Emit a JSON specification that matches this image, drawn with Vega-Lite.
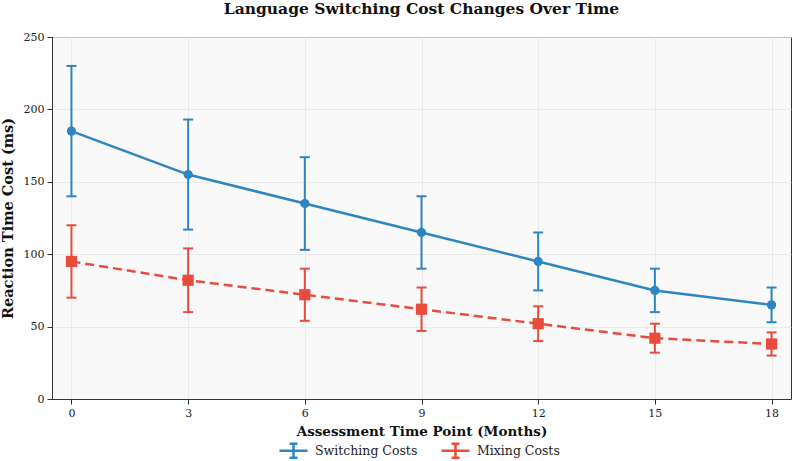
{
  "$schema": "https://vega.github.io/schema/vega-lite/v6.json",
  "autosize": "none",
  "width": 739,
  "height": 362,
  "padding": {"left": 52, "top": 37, "right": 3, "bottom": 62},
  "background": "white",
  "title": {
    "text": "Language Switching Cost Changes Over Time",
    "font": "DejaVu Serif",
    "fontSize": 15.5,
    "fontWeight": "bold",
    "color": "#111",
    "anchor": "middle",
    "offset": 14
  },
  "config": {
    "view": {"fill": "#f9f9f9", "stroke": "#333", "strokeWidth": 1},
    "axis": {
      "labelFont": "DejaVu Serif",
      "labelFontSize": 11,
      "labelColor": "#222",
      "titleFont": "DejaVu Serif",
      "titleFontSize": 13.5,
      "titleFontWeight": "bold",
      "titleColor": "#111",
      "domainColor": "#333",
      "tickColor": "#333",
      "tickSize": 5,
      "gridColor": "#e6e6e6",
      "gridWidth": 0.8
    },
    "legend": {
      "labelFont": "DejaVu Serif",
      "labelFontSize": 12.5,
      "labelColor": "#222"
    }
  },
  "data": {
    "values": [
      {"time": 0, "series": "Switching Costs", "mean": 185, "lo": 140, "hi": 230},
      {"time": 3, "series": "Switching Costs", "mean": 155, "lo": 117, "hi": 193},
      {"time": 6, "series": "Switching Costs", "mean": 135, "lo": 103, "hi": 167},
      {"time": 9, "series": "Switching Costs", "mean": 115, "lo": 90, "hi": 140},
      {"time": 12, "series": "Switching Costs", "mean": 95, "lo": 75, "hi": 115},
      {"time": 15, "series": "Switching Costs", "mean": 75, "lo": 60, "hi": 90},
      {"time": 18, "series": "Switching Costs", "mean": 65, "lo": 53, "hi": 77},
      {"time": 0, "series": "Mixing Costs", "mean": 95, "lo": 70, "hi": 120},
      {"time": 3, "series": "Mixing Costs", "mean": 82, "lo": 60, "hi": 104},
      {"time": 6, "series": "Mixing Costs", "mean": 72, "lo": 54, "hi": 90},
      {"time": 9, "series": "Mixing Costs", "mean": 62, "lo": 47, "hi": 77},
      {"time": 12, "series": "Mixing Costs", "mean": 52, "lo": 40, "hi": 64},
      {"time": 15, "series": "Mixing Costs", "mean": 42, "lo": 32, "hi": 52},
      {"time": 18, "series": "Mixing Costs", "mean": 38, "lo": 30, "hi": 46}
    ]
  },
  "encoding": {
    "x": {
      "field": "time",
      "type": "quantitative",
      "title": "Assessment Time Point (Months)",
      "scale": {"domain": [-0.5, 18.5], "nice": false, "zero": false},
      "axis": {"values": [0, 3, 6, 9, 12, 15, 18], "labelPadding": 3, "titlePadding": 6}
    }
  },
  "layer": [
    {
      "mark": {"type": "rule", "strokeWidth": 2, "opacity": 1},
      "encoding": {
        "y": {
          "field": "lo",
          "type": "quantitative",
          "title": "Reaction Time Cost (ms)",
          "scale": {"domain": [0, 250], "nice": false},
          "axis": {"values": [0, 50, 100, 150, 200, 250], "labelPadding": 3, "titlePadding": 8, "titleFontSize": 14.5}
        },
        "y2": {"field": "hi"},
        "color": {
          "field": "series",
          "type": "nominal",
          "title": null,
          "scale": {"domain": ["Switching Costs", "Mixing Costs"], "range": ["#2e86c1", "#e74c3c"]},
          "legend": {
            "orient": "none",
            "legendX": 226,
            "legendY": 398,
            "direction": "horizontal",
            "symbolType": "M-1,0H1M0,-0.5V0.5M-0.28,-0.5H0.28M-0.28,0.5H0.28",
            "symbolSize": 784,
            "symbolStrokeWidth": 2.5,
            "columnPadding": 18,
            "labelOffset": 6,
            "encode": {
              "symbols": {
                "shape": {"value": {"signal": "datum.value === 'Switching Costs' ? 'M-1,0H1M0,-0.5V0.5M-0.28,-0.5H0.28M-0.28,0.5H0.28M0.34,0A0.34,0.34,0,1,1,-0.34,0A0.34,0.34,0,1,1,0.34,0Z' : 'M-1,0H1M0,-0.5V0.5M-0.28,-0.5H0.28M-0.28,0.5H0.28M-0.38,-0.38H0.38V0.38H-0.38Z'"}},
                "fill": {"value": {"signal": "datum.value === 'Switching Costs' ? '#2e86c1' : '#e74c3c'"}},
                "opacity": {"value": 1}
              }
            }
          }
        }
      }
    },
    {
      "mark": {"type": "tick", "orient": "horizontal", "size": 10, "thickness": 2, "opacity": 1},
      "encoding": {
        "y": {"field": "hi", "type": "quantitative"},
        "color": {"field": "series", "type": "nominal", "title": null}
      }
    },
    {
      "mark": {"type": "tick", "orient": "horizontal", "size": 10, "thickness": 2, "opacity": 1},
      "encoding": {
        "y": {"field": "lo", "type": "quantitative"},
        "color": {"field": "series", "type": "nominal", "title": null}
      }
    },
    {
      "transform": [{"filter": "datum.series === 'Switching Costs'"}],
      "mark": {"type": "line", "strokeWidth": 2.5},
      "encoding": {
        "y": {"field": "mean", "type": "quantitative"},
        "color": {"field": "series", "type": "nominal", "title": null}
      }
    },
    {
      "transform": [{"filter": "datum.series === 'Mixing Costs'"}],
      "mark": {"type": "line", "strokeWidth": 2.5, "strokeDash": [9, 5]},
      "encoding": {
        "y": {"field": "mean", "type": "quantitative"},
        "color": {"field": "series", "type": "nominal", "title": null}
      }
    },
    {
      "transform": [{"filter": "datum.series === 'Switching Costs'"}],
      "mark": {"type": "point", "shape": "circle", "filled": true, "opacity": 1, "size": 85},
      "encoding": {
        "y": {"field": "mean", "type": "quantitative"},
        "color": {"field": "series", "type": "nominal", "title": null}
      }
    },
    {
      "transform": [{"filter": "datum.series === 'Mixing Costs'"}],
      "mark": {"type": "point", "shape": "square", "filled": true, "opacity": 1, "size": 125},
      "encoding": {
        "y": {"field": "mean", "type": "quantitative"},
        "color": {"field": "series", "type": "nominal", "title": null}
      }
    }
  ]
}
